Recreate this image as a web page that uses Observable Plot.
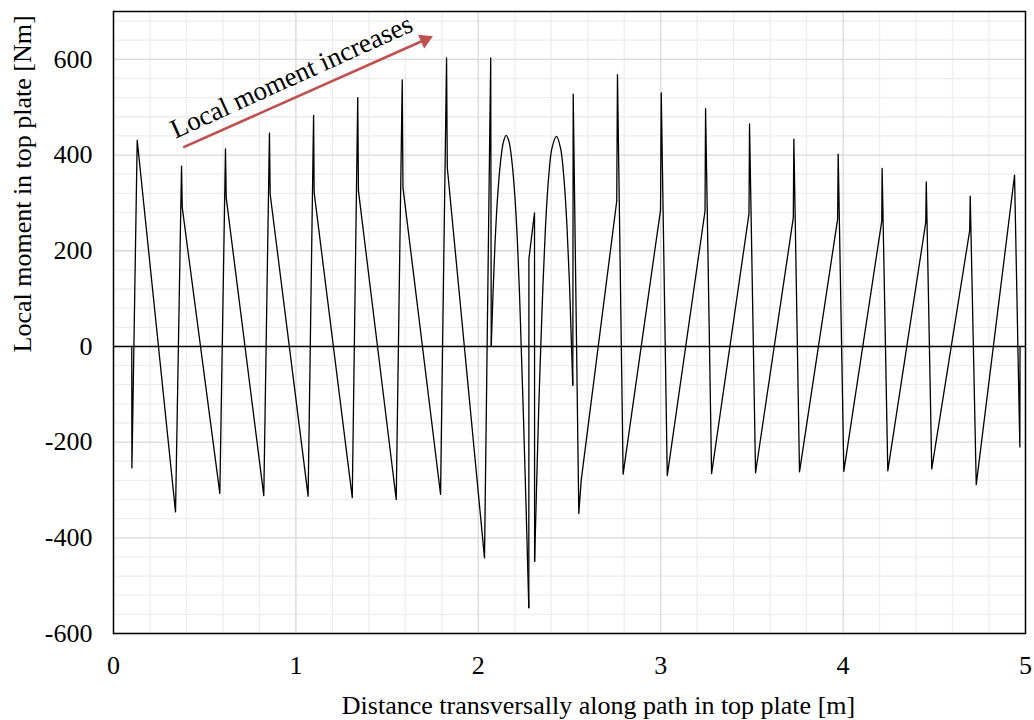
<!DOCTYPE html>
<html><head><meta charset="utf-8">
<script src="https://cdn.jsdelivr.net/npm/d3@7"></script>
<script src="https://cdn.jsdelivr.net/npm/@observablehq/plot@0.6"></script>
<style>body{margin:0;background:#fff} svg text{font-family:"Liberation Serif","Times New Roman",serif}</style>
</head><body><div id="chart"></div>
<script>
// Distance along path [m]
const distance = [
  0.100, 0.101, 0.130, 0.340,
  0.373, 0.377, 0.583,
  0.614, 0.618, 0.824,
  0.855, 0.859, 1.067,
  1.097, 1.100, 1.309,
  1.339, 1.343, 1.550,
  1.583, 1.587, 1.793,
  1.826, 1.830, 2.034,
  2.068, 2.071,
  2.0806, 2.0916, 2.1053, 2.1217, 2.1382, 2.1530, 2.1683, 2.1848, 2.2012, 2.2149, 2.2259, 2.2352, 2.2478, 2.2615, 2.2769,
  2.2775, 2.3081, 2.3087,
  2.3218, 2.3328, 2.3426, 2.3547, 2.3684, 2.3849, 2.4041, 2.4287, 2.4507, 2.4698, 2.4863, 2.5000, 2.5110, 2.5181,
  2.5203, 2.5510, 2.5641,
  2.759, 2.763, 2.794,
  2.999, 3.003, 3.036,
  3.243, 3.246, 3.279,
  3.484, 3.487, 3.520,
  3.727, 3.730, 3.761,
  3.970, 3.973, 4.004,
  4.212, 4.214, 4.245,
  4.453, 4.456, 4.486,
  4.694, 4.697, 4.730,
  4.940, 4.969, 4.970
];
// Local moment [Nm]
const moment = [
  0, -254, 431, -346,
  377, 290, -307,
  413, 311, -312,
  446, 318, -313,
  483, 322, -316,
  520, 325, -320,
  557, 332, -309,
  603, 374, -442,
  603, 0,
  110, 215, 310, 385, 428, 441, 428, 385, 310, 215, 110, 0, -150, -330, -546,
  183, 279, -449,
  -260, -110, 0, 130, 250, 350, 415, 439, 415, 350, 250, 130, 0, -81,
  527, -349, -280,
  304, 568, -267,
  285, 530, -270,
  283, 497, -266,
  277, 465, -264,
  269, 433, -262,
  266, 402, -261,
  262, 372, -260,
  259, 344, -256,
  242, 314, -289,
  358, -210, 0
];
// Curved (parabolic) stretches of the path, as [from, to] distances [m]
const curvedStretches = [[2.071, 2.2769], [2.3087, 2.5181]];

const xTicks = [0, 1, 2, 3, 4, 5];
const yTicks = [-600, -400, -200, 0, 200, 400, 600];
const xTickLabels = ["0", "1", "2", "3", "4", "5"];
const yTickLabels = ["-600", "-400", "-200", "0", "200", "400", "600"];
const xLabel = "Distance transversally along path in top plate [m]";
const yLabel = "Local moment in top plate [Nm]";
const annotationText = "Local moment increases";
const arrowStart = [0.382, 416];
const arrowEnd = [1.708, 641];
const textStart = [0.340, 434];

// split path into straight and curved pieces (shared end points)
const rows = distance.map((d, i) => ({x: d, y: moment[i]}));
const straightRows = [], curvedRows = [];
const bounds = [0, ...curvedStretches.flat(), Infinity];
for (let s = 0; s < bounds.length - 1; s++) {
  const lo = bounds[s], hi = bounds[s + 1];
  const part = rows.filter(r => r.x >= lo - 1e-9 && r.x <= hi + 1e-9).map(r => ({...r, z: s}));
  if (s % 2 === 0) straightRows.push(...part); else curvedRows.push(...part);
}

const xMinor = d3.range(0, 5.001, 0.2).filter(v => Math.abs(v - Math.round(v)) > 1e-6);
const yMinor = d3.range(-600, 700, 40).filter(v => v % 200 !== 0);

const font = "Liberation Serif";
const red = "#C0504D";

const chart = Plot.plot({
  width: 1034,
  height: 720,
  marginLeft: 113,
  marginRight: 9,
  marginTop: 11,
  marginBottom: 87,
  style: {fontFamily: font, fontSize: "26px", color: "black", background: "white"},
  x: {domain: [0, 5], axis: null},
  y: {domain: [-600, 700], axis: null},
  marks: [
    Plot.ruleX(xMinor, {stroke: "#eeeeee", strokeWidth: 1.3}),
    Plot.ruleY(yMinor, {stroke: "#eeeeee", strokeWidth: 1.3}),
    Plot.ruleX(xTicks, {stroke: "#d9d9d9", strokeWidth: 1.3}),
    Plot.ruleY(yTicks, {stroke: "#d9d9d9", strokeWidth: 1.3}),
    Plot.ruleY([0], {stroke: "black", strokeWidth: 1.5}),
    Plot.line(straightRows, {x: "x", y: "y", z: "z", stroke: "black", strokeWidth: 1.3}),
    Plot.line(curvedRows, {x: "x", y: "y", z: "z", stroke: "black", strokeWidth: 1.3, curve: "catmull-rom"}),
    Plot.link([{x1: arrowStart[0], y1: arrowStart[1], x2: arrowEnd[0], y2: arrowEnd[1]}],
      {x1: "x1", y1: "y1", x2: "x2", y2: "y2", stroke: red, strokeWidth: 2.6}),
    Plot.dot([{x: arrowEnd[0], y: arrowEnd[1]}],
      {x: "x", y: "y", symbol: "triangle", r: 5.6, fill: red, stroke: "none", rotate: 65.6}),
    Plot.text([annotationText], {x: () => textStart[0], y: () => textStart[1], text: d => d,
      textAnchor: "start", lineAnchor: "bottom", rotate: -24.4, fontSize: 27, fontFamily: font, fill: "black"}),
    Plot.frame({stroke: "black", strokeWidth: 1.5}),
    Plot.text(xTicks, {x: d => d, text: (d, i) => xTickLabels[i], frameAnchor: "bottom", lineAnchor: "top", dy: 22, fontSize: 26, fontFamily: font, fill: "black"}),
    Plot.text(yTicks, {y: d => d, text: (d, i) => yTickLabels[i], frameAnchor: "left", textAnchor: "end", lineAnchor: "middle", dx: -21, fontSize: 26, fontFamily: font, fill: "black"}),
    Plot.text([xLabel], {frameAnchor: "bottom", text: d => d, dx: 29, dy: 72, lineAnchor: "middle", fontSize: 26, fontFamily: font, fill: "black"}),
    Plot.text([yLabel], {frameAnchor: "left", text: d => d, rotate: -90, dx: -91, dy: 30, lineAnchor: "middle", fontSize: 26, fontFamily: font, fill: "black"})
  ]
});
document.getElementById("chart").append(chart);
</script>
</body></html>
